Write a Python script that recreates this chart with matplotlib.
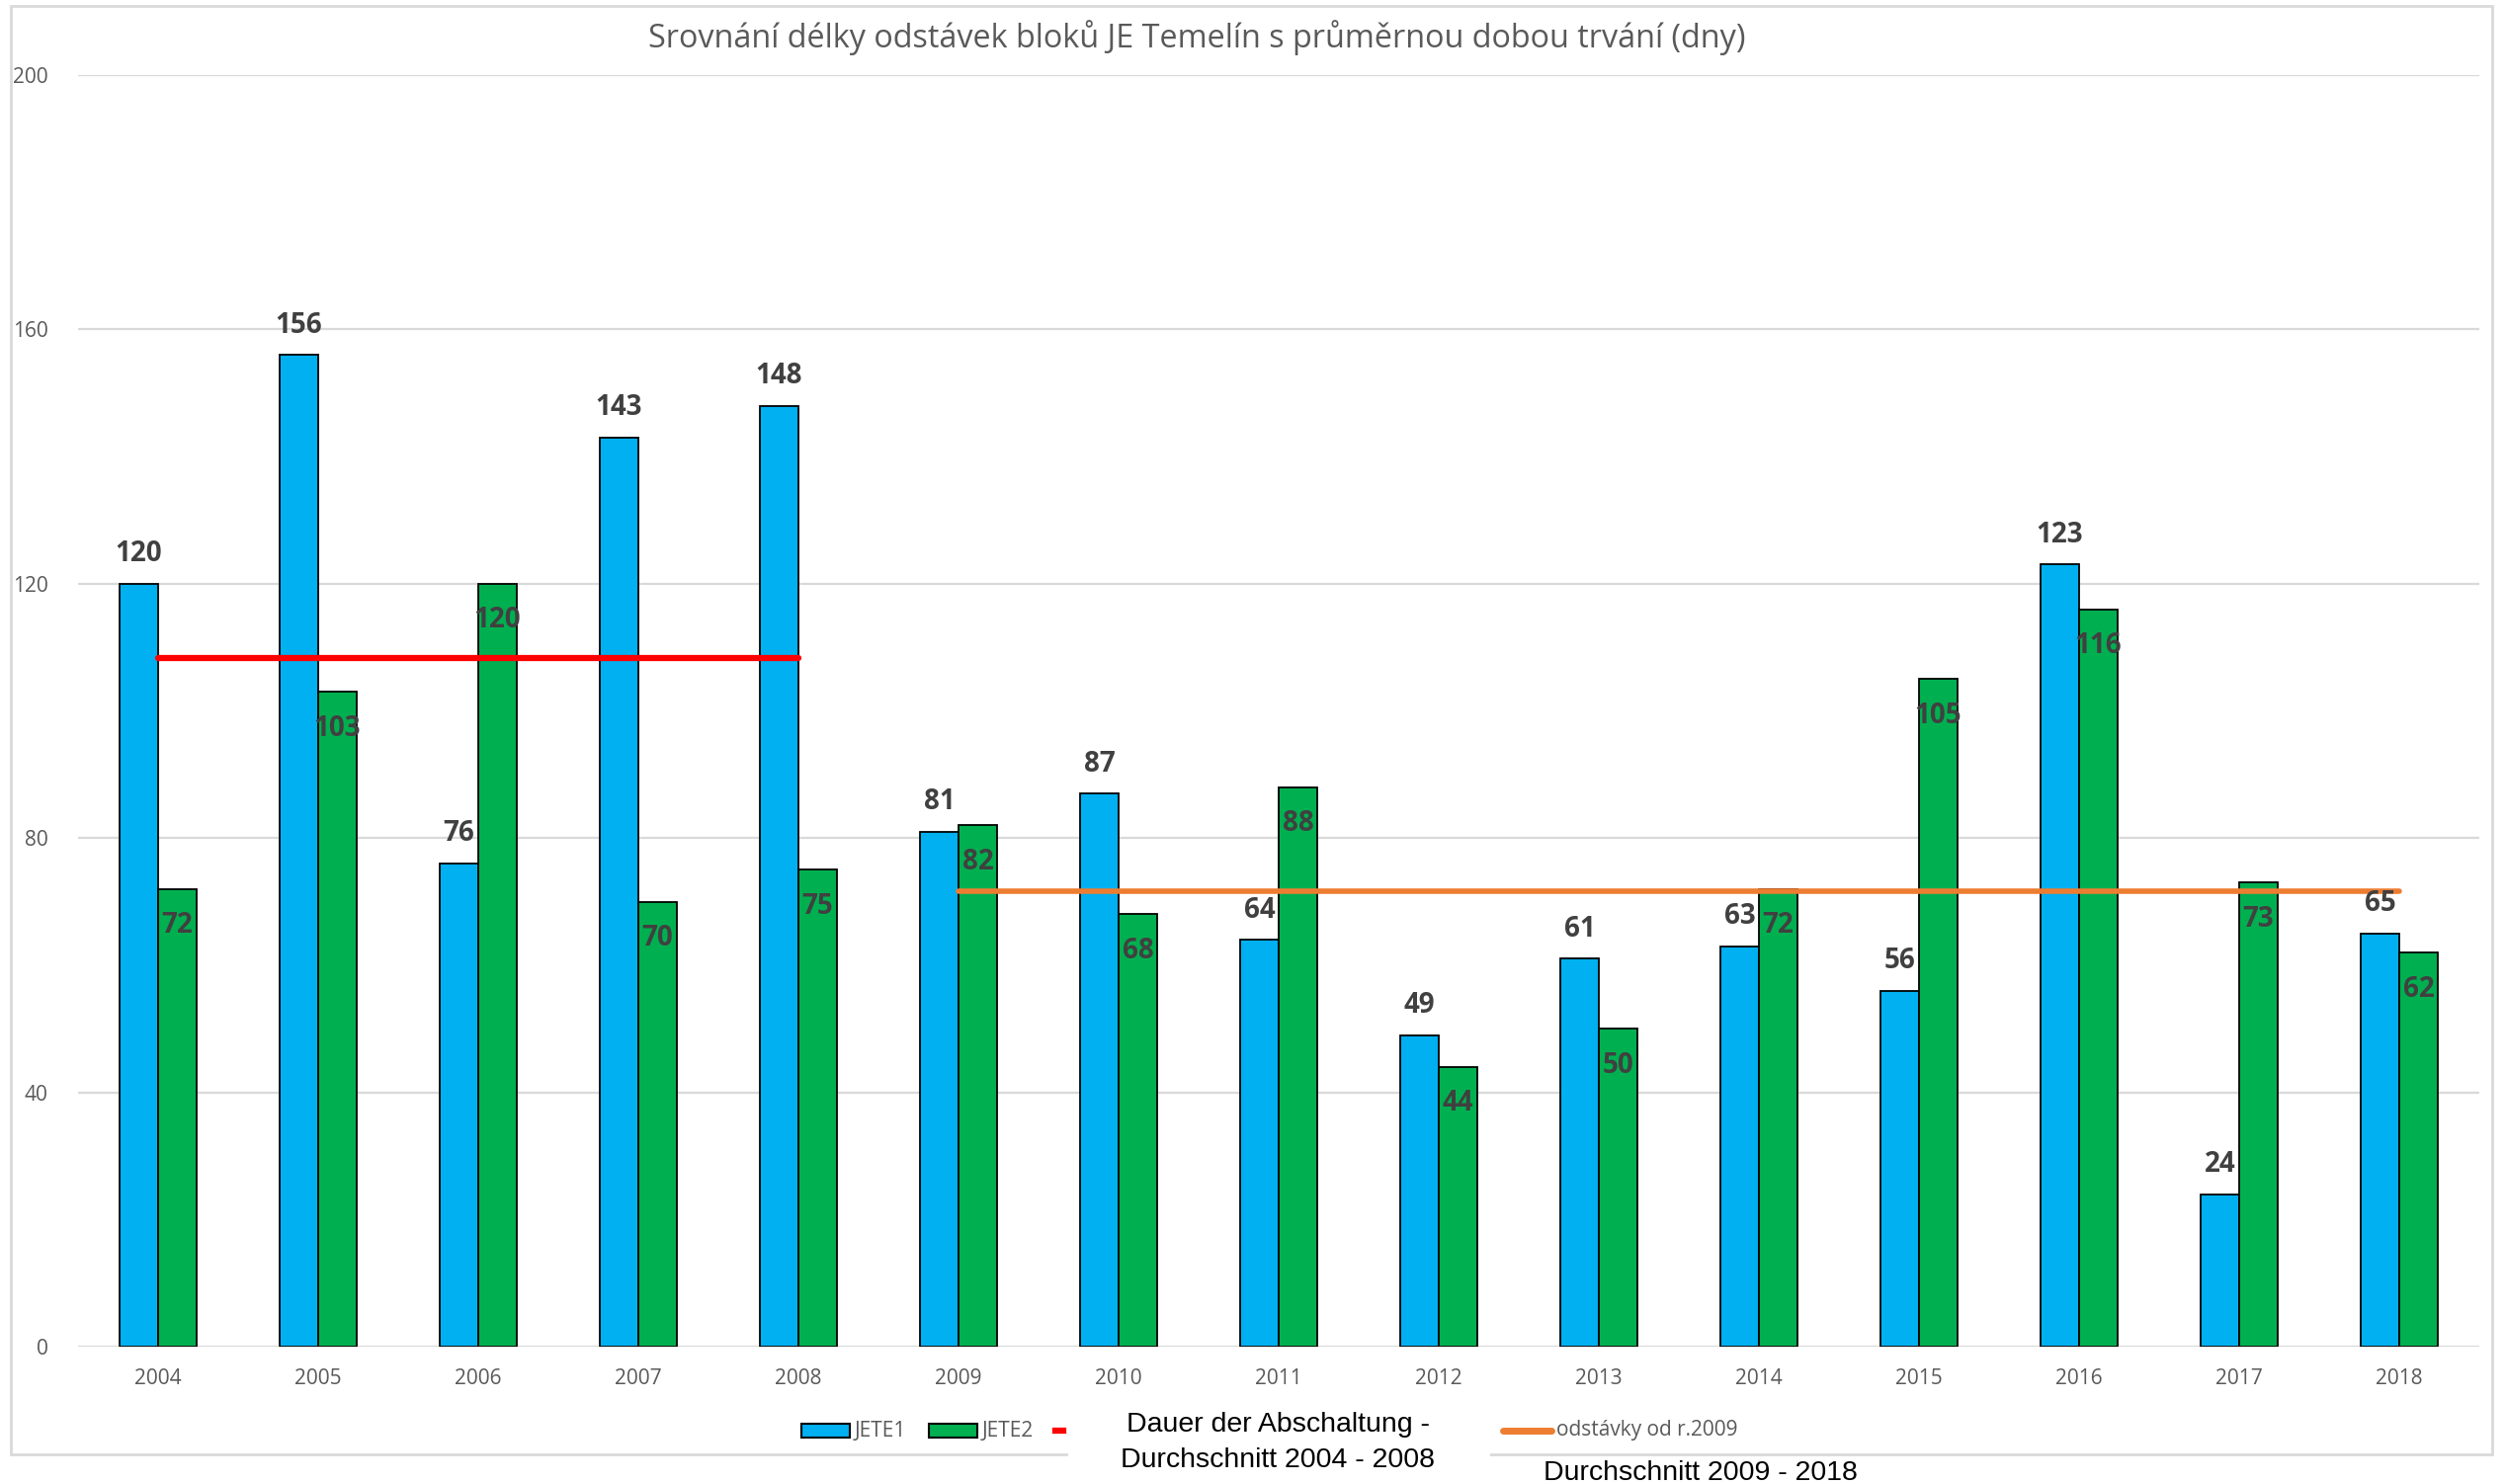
import numpy as np
import matplotlib
matplotlib.use("Agg")
import matplotlib.pyplot as plt
from matplotlib.patches import Rectangle
from matplotlib.lines import Line2D

plt.rcParams['font.family'] = ['Open Sans', 'DejaVu Sans']

# data
years = ['2004', '2005', '2006', '2007', '2008', '2009', '2010', '2011',
         '2012', '2013', '2014', '2015', '2016', '2017', '2018']
jete1 = [120, 156, 76, 143, 148, 81, 87, 64, 49, 61, 63, 56, 123, 24, 65]
jete2 = [72, 103, 120, 70, 75, 82, 68, 88, 44, 50, 72, 105, 116, 73, 62]
yticks = [0, 40, 80, 120, 160, 200]

# prumery (z obou bloku)
avg1 = np.mean(jete1[:5] + jete2[:5])
avg2 = np.mean(jete1[5:] + jete2[5:])

W, H = 2534, 1502
fig = plt.figure(figsize=(W / 100, H / 100), dpi=100)

def fx(px):
    return px / W

def fy(py):
    return 1 - py / H

ax = fig.add_axes([fx(79), fy(1363), fx(2509) - fx(79), fy(76) - fy(1363)])

blue = '#00B0F0'
green = '#00B050'
grey = '#595959'
lab = '#404040'

x = np.arange(len(years))
bw = 0.24
ax.bar(x - bw / 2, jete1, bw, color=blue, edgecolor='black', linewidth=1.3, zorder=3)
ax.bar(x + bw / 2, jete2, bw, color=green, edgecolor='black', linewidth=1.3, zorder=3)

ax.plot([0, 4], [avg1, avg1], color='#FF0000', lw=4.5, solid_capstyle='round', zorder=4)
ax.plot([5, 14], [avg2, avg2], color='#ED7D31', lw=4, solid_capstyle='round', zorder=4)

for i in range(len(years)):
    ax.text(x[i] - bw / 2, jete1[i] + 2.4, str(jete1[i]), ha='center', va='bottom',
            fontsize=20, fontweight='bold', color=lab, zorder=5)
    ax.text(x[i] + bw / 2, jete2[i] - 3.5, str(jete2[i]), ha='center', va='top',
            fontsize=20, fontweight='bold', color=lab, zorder=5)

ax.set_xlim(-0.5, len(years) - 0.5)
ax.set_ylim(0, 200)
ax.set_yticks(yticks)
ax.yaxis.grid(True, color='#d9d9d9', lw=1.6, zorder=0)
ax.set_axisbelow(True)
ax.set_xticks(x)
ax.set_xticklabels(years)
ax.tick_params(axis='both', length=0, labelsize=15, labelcolor=grey)
ax.tick_params(axis='x', pad=16)
ax.tick_params(axis='y', pad=22)
for s in ax.spines.values():
    s.set_visible(False)

# ramecek grafu
fig.add_artist(Rectangle((fx(11), fy(1472)), fx(2522) - fx(11), fy(6) - fy(1472),
                         transform=fig.transFigure, fill=False, edgecolor='#d9d9d9', lw=2))

fig.text(fx(1211), fy(38), 'Srovnání délky odstávek bloků JE Temelín s průměrnou dobou trvání (dny)',
         ha='center', va='center', fontsize=23.3, color=grey)

# legenda
ly = 1448
fig.add_artist(Rectangle((fx(811), fy(ly + 7)), fx(860) - fx(811), fy(ly - 7) - fy(ly + 7),
                         transform=fig.transFigure, facecolor=blue, edgecolor='black', lw=1.5))
fig.text(fx(865), fy(ly), 'JETE1', ha='left', va='center', fontsize=15, color=grey)
fig.add_artist(Rectangle((fx(940), fy(ly + 7)), fx(989) - fx(940), fy(ly - 7) - fy(ly + 7),
                         transform=fig.transFigure, facecolor=green, edgecolor='black', lw=1.5))
fig.text(fx(994), fy(ly), 'JETE2', ha='left', va='center', fontsize=15, color=grey)
fig.add_artist(Line2D([fx(1068), fx(1076)], [fy(ly), fy(ly)], transform=fig.transFigure,
                      color='#FF0000', lw=4.5))
fig.add_artist(Line2D([fx(1521), fx(1570)], [fy(ly), fy(ly)], transform=fig.transFigure,
                      color='#ED7D31', lw=5, solid_capstyle='round'))
fig.text(fx(1575), fy(ly), 'odstávky od r.2009', ha='left', va='center', fontsize=15, color=grey)

# bily box s nemeckym popiskem
fig.add_artist(Rectangle((fx(1081), fy(1502)), fx(1508) - fx(1081), fy(1418) - fy(1502),
                         transform=fig.transFigure, facecolor='white', edgecolor='none'))
fig.text(fx(1293), fy(1442), 'Dauer der Abschaltung -', ha='center', va='center',
         fontsize=20.5, color='black', family='Liberation Sans')
fig.text(fx(1293), fy(1478), 'Durchschnitt 2004 - 2008', ha='center', va='center',
         fontsize=20.5, color='black', family='Liberation Sans')
fig.text(fx(1721), fy(1491), 'Durchschnitt 2009 - 2018', ha='center', va='center',
         fontsize=20.5, color='black', family='Liberation Sans')

fig.savefig('out.png', dpi=100, facecolor='white')
